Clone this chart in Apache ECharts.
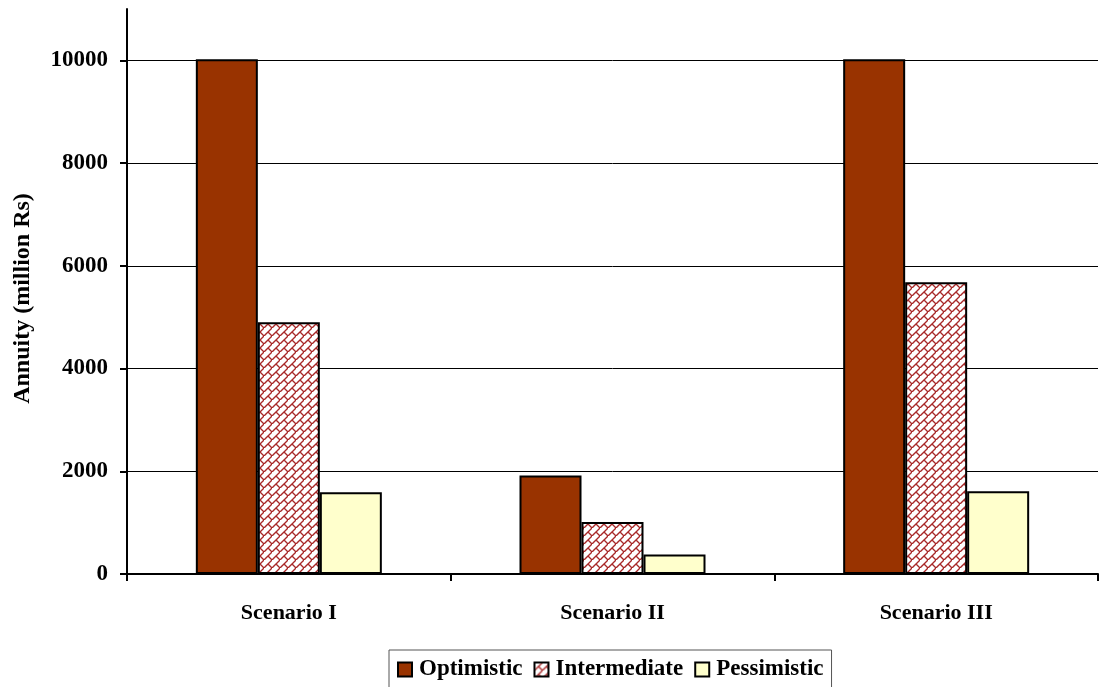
<!DOCTYPE html>
<html>
<head>
<meta charset="utf-8">
<script src="https://cdn.jsdelivr.net/npm/echarts@6/dist/echarts.min.js"></script>
<style>html,body{margin:0;padding:0;background:#fff;}#c{width:1100px;height:687px;}</style>
</head>
<body>
<div id="c"></div>
<script>
const categories = ['Scenario I', 'Scenario II', 'Scenario III'];
const seriesNames = ['Optimistic', 'Intermediate', 'Pessimistic'];
const optimistic = [10020, 1920, 10020];
const intermediate = [4900, 1010, 5680];
const pessimistic = [1590, 380, 1610];
const yTicks = [0, 2000, 4000, 6000, 8000, 10000];

function brickPattern() {
  const c = document.createElement('canvas');
  c.width = 8; c.height = 8;
  const g = c.getContext('2d');
  g.fillStyle = '#ffffff';
  g.fillRect(0, 0, 8, 8);
  g.strokeStyle = '#a82828';
  g.lineWidth = 1.4;
  g.beginPath();
  g.moveTo(-1, 9); g.lineTo(9, -1);
  g.moveTo(4, 4); g.lineTo(9, 9);
  g.stroke();
  return c;
}

const FONT = 'Liberation Serif';
const chart = echarts.init(document.getElementById('c'));
const pattern = { image: brickPattern(), repeat: 'repeat' };
const colors = ['#993300', pattern, '#ffffcc'];
const dataSets = [optimistic, intermediate, pessimistic];

chart.setOption({
  animation: false,
  backgroundColor: '#ffffff',
  textStyle: { fontFamily: FONT },
  grid: { left: 127, right: 2, top: 9, bottom: 113, outerBoundsMode: 'none', containLabel: false },
  legend: {
    left: 389, top: 650,
    padding: [8, 8, 8, 8],
    borderColor: '#555', borderWidth: 1,
    itemWidth: 14, itemHeight: 14, itemGap: 11,
    icon: 'rect',
    textStyle: { fontFamily: FONT, fontWeight: 'bold', fontSize: 23, color: '#000', padding: [0, 0, 0, 2] },
    itemStyle: { borderColor: '#000', borderWidth: 2 },
    data: seriesNames
  },
  xAxis: {
    type: 'category',
    data: categories,
    axisLine: { lineStyle: { color: '#000', width: 2 } },
    axisTick: { show: true, length: 7, lineStyle: { color: '#000', width: 2 } },
    axisLabel: { margin: 28, fontFamily: FONT, fontWeight: 'bold', fontSize: 22, color: '#000' }
  },
  yAxis: {
    type: 'value',
    min: 0, max: 11000, interval: 2000,
    name: 'Annuity (million Rs)',
    nameLocation: 'middle', nameRotate: 90, nameGap: 92,
    nameTextStyle: { fontFamily: FONT, fontWeight: 'bold', fontSize: 24, color: '#000', padding: [0, 14, 0, 0] },
    axisLine: { show: true, lineStyle: { color: '#000', width: 2 } },
    axisTick: { show: true, length: 7, customValues: yTicks, lineStyle: { color: '#000', width: 2 } },
    axisLabel: { margin: 19, customValues: yTicks, formatter: v => String(v), fontFamily: FONT, fontWeight: 'bold', fontSize: 23, color: '#000' },
    splitLine: { show: true, lineStyle: { color: ['#000', '#000', '#000', '#000', '#000', '#000', 'rgba(0,0,0,0)'], width: 1 } }
  },
  series: seriesNames.map((n, i) => ({
    name: n,
    type: 'bar',
    data: dataSets[i],
    barWidth: 62,
    barGap: '0%',
    itemStyle: { color: colors[i], borderColor: '#000', borderWidth: 2 }
  }))
});
</script>
</body>
</html>
